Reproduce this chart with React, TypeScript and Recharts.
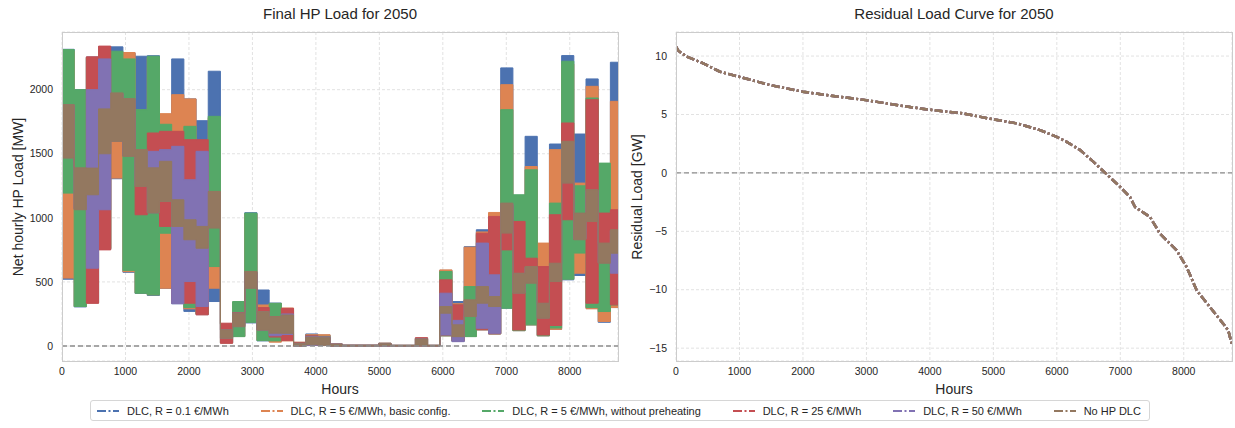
import React from "react";
import {
  ComposedChart, Area, LineChart, Line, XAxis, YAxis, CartesianGrid, ReferenceLine,
} from "recharts";

const FONT = '"Liberation Sans", Arial, Helvetica, sans-serif';
const TEXT = "#262626";

const SERIES = [
  { key: "blue", name: "DLC, R = 0.1 €/MWh", color: "#4C72B0" },
  { key: "orange", name: "DLC, R = 5 €/MWh, basic config.", color: "#DD8452" },
  { key: "green", name: "DLC, R = 5 €/MWh, without preheating", color: "#55A868" },
  { key: "red", name: "DLC, R = 25 €/MWh", color: "#C44E52" },
  { key: "purple", name: "DLC, R = 50 €/MWh", color: "#8172B3" },
  { key: "brown", name: "No HP DLC", color: "#937860" },
];

// start hour of each 8-day block (last entry closes the year)
const blockStart = [
  0, 192, 384, 576, 768, 960, 1152, 1344, 1536, 1728, 1920, 2112, 2304, 2496, 2688, 2880,
  3072, 3264, 3456, 3648, 3840, 4032, 4224, 4416, 4608, 4800, 4992, 5184, 5376, 5568, 5760,
  5952, 6144, 6336, 6528, 6720, 6912, 7104, 7296, 7488, 7680, 7872, 8064, 8256, 8448, 8640, 8760,
];

// daily min / max of the net HP load within each block [MW]
const blueLo = [521, 305, 335, 755, 1305, 575, 410, 395, 450, 330, 270, 245, 347, 25, 75, 180, 40, 35, 45, 0, 5, 5, 0, 0, 0, 0, 0, 0, 0, 0, 0, 80, 35, 75, 125, 95, 295, 120, 165, 80, 130, 516, 550, 295, 185, 300];
const blueHi = [2315, 2000, 2255, 2335, 2334, 2285, 2261, 2265, 1800, 2240, 1928, 1758, 2144, 170, 340, 1040, 437, 335, 280, 28, 94, 85, 16, 6, 6, 6, 22, 5, 5, 60, 5, 590, 347, 775, 907, 1030, 2170, 1175, 1636, 790, 1576, 2266, 1654, 2084, 1420, 2214];
const orangeLo = [530, 310, 335, 760, 1310, 580, 415, 400, 451, 335, 290, 250, 451, 25, 75, 190, 45, 30, 40, 0, 5, 5, 0, 0, 0, 0, 0, 0, 0, 0, 0, 79, 40, 75, 125, 95, 300, 120, 165, 80, 130, 525, 568, 290, 191, 300];
const orangeHi = [2300, 1990, 2250, 2300, 2290, 2290, 1840, 2250, 1813, 1961, 1928, 1600, 1780, 170, 340, 1030, 320, 330, 296, 30, 88, 88, 16, 6, 6, 6, 22, 5, 5, 60, 5, 594, 330, 771, 890, 1042, 2039, 1170, 1400, 803, 1532, 2200, 1271, 2026, 1420, 1909];
const greenLo = [1193, 308, 340, 760, 1600, 590, 412, 399, 880, 340, 300, 250, 620, 25, 73, 185, 42, 40, 45, 0, 5, 5, 0, 0, 0, 0, 0, 0, 0, 0, 0, 80, 40, 73, 130, 95, 295, 120, 165, 80, 140, 521, 725, 300, 269, 320];
const greenHi = [2313, 2000, 2250, 2300, 2300, 2240, 1844, 2261, 1730, 1670, 1714, 1600, 1792, 170, 347, 1037, 300, 333, 285, 25, 80, 75, 15, 6, 6, 6, 20, 5, 5, 60, 5, 581, 320, 464, 870, 1000, 1844, 1180, 1375, 610, 1115, 2222, 1250, 1935, 1427, 1050];
const redLo = [1470, 1070, 334, 750, 1600, 1485, 1024, 1040, 933, 340, 334, 243, 925, 21, 160, 455, 125, 70, 42, 0, 5, 5, 0, 0, 0, 0, 0, 0, 0, 0, 0, 85, 40, 235, 130, 95, 750, 125, 560, 86, 160, 985, 835, 334, 660, 321];
const redHi = [1880, 1380, 2256, 2340, 1970, 1925, 1530, 1662, 1675, 1675, 1610, 1610, 1200, 178, 260, 575, 300, 230, 294, 25, 80, 70, 15, 6, 6, 6, 20, 5, 5, 65, 5, 516, 321, 355, 880, 1011, 1100, 972, 685, 620, 1024, 1740, 1030, 1922, 1037, 1063];
const purpleLo = [1470, 1070, 607, 1063, 1600, 1485, 1250, 1040, 1128, 330, 503, 308, 925, 60, 151, 455, 125, 80, 90, 0, 5, 5, 0, 0, 0, 0, 0, 0, 0, 2, 0, 86, 34, 235, 138, 99, 885, 415, 495, 220, 505, 1275, 835, 975, 650, 568];
const purpleHi = [1880, 1385, 2000, 2240, 1970, 1925, 1530, 1519, 1532, 1558, 1297, 1519, 1200, 126, 256, 575, 268, 225, 250, 20, 75, 70, 14, 6, 6, 6, 18, 5, 5, 55, 5, 412, 200, 355, 803, 555, 1110, 565, 615, 330, 640, 1590, 1030, 1215, 800, 900];
const brownLo = [1467, 1063, 1180, 1500, 1597, 1480, 1245, 1040, 1128, 933, 829, 763, 920, 60, 151, 451, 125, 100, 99, 0, 10, 5, 0, 0, 0, 0, 2, 0, 0, 5, 0, 256, 73, 230, 334, 308, 881, 412, 490, 217, 503, 1271, 829, 972, 646, 724];
const brownHi = [1883, 1390, 1388, 1850, 1975, 1930, 1532, 1390, 1441, 1141, 985, 933, 1206, 126, 256, 581, 268, 229, 242, 18, 70, 65, 12, 5, 5, 5, 18, 5, 5, 55, 5, 308, 165, 360, 464, 386, 1115, 568, 620, 334, 646, 1597, 1037, 1219, 803, 907];

// residual load duration curve [GW]
const curveHours = [0, 36, 168, 430, 693, 993, 1481, 1996, 2479, 2993, 3582, 4002, 4527, 5000, 5368, 5735, 5998, 6156, 6368, 6578, 6762, 6998, 7153, 7232, 7468, 7626, 7888, 8046, 8204, 8413, 8623, 8702, 8759];
const curveGW = [10.8, 10.46, 9.95, 9.38, 8.66, 8.23, 7.52, 6.95, 6.58, 6.23, 5.72, 5.4, 5.09, 4.58, 4.24, 3.66, 3.09, 2.66, 1.95, 0.94, 0, -1.2, -2.06, -2.92, -3.77, -5.2, -6.63, -8.06, -10.06, -11.49, -12.92, -13.49, -14.7];

const xTicks = [0, 1000, 2000, 3000, 4000, 5000, 6000, 7000, 8000];
const loadTicks = [0, 500, 1000, 1500, 2000];
const gwTicks = [-15, -10, -5, 0, 5, 10];

const ranges: Record<string, [number[], number[]]> = {
  blue: [blueLo, blueHi], orange: [orangeLo, orangeHi], green: [greenLo, greenHi],
  red: [redLo, redHi], purple: [purpleLo, purpleHi], brown: [brownLo, brownHi],
};

const hpData = blockStart.map((hour, i) => {
  const k = Math.min(i, blueLo.length - 1);
  const row: Record<string, any> = { hour };
  for (const s of SERIES) row[s.key] = [ranges[s.key][0][k], ranges[s.key][1][k]];
  return row;
});

const curveData = curveHours.map((hour, i) => ({ hour, load: curveGW[i] }));

const tick = { fill: TEXT, fontSize: 10.5, fontFamily: FONT };
const fmtMinus = (v: number) => (v < 0 ? "\u2212" + Math.abs(v) : String(v));

function Frame({ left }: { left: number }) {
  return (
    <div style={{
      position: "absolute", left, top: 32, width: 557, height: 330, boxSizing: "border-box",
      border: "1px solid #cccccc", pointerEvents: "none",
    }} />
  );
}

function Label({ x, y, text, size, rotate }: { x: number; y: number; text: string; size: number; rotate?: boolean }) {
  return (
    <div style={{
      position: "absolute", left: x, top: y, transform: `translate(-50%, -50%)${rotate ? " rotate(-90deg)" : ""}`,
      fontSize: size, fontFamily: FONT, color: TEXT, whiteSpace: "nowrap",
    }}>{text}</div>
  );
}

function Sample({ color }: { color: string }) {
  return (
    <svg width={22} height={6} style={{ marginRight: 8 }}>
      <line x1={0} y1={3} x2={22} y2={3} stroke={color} strokeWidth={2} strokeDasharray="9 2.5 2 2.5" />
    </svg>
  );
}

export default function App() {
  return (
    <div style={{ position: "absolute", left: 0, top: 0, width: 1235, height: 428, background: "#fff", overflow: "hidden" }}>
      <Label x={340} y={13} text="Final HP Load for 2050" size={15} />
      <Label x={954} y={13} text="Residual Load Curve for 2050" size={15} />

      <div style={{ position: "absolute", left: 0, top: 0 }}>
        <ComposedChart width={630} height={395} data={hpData}
          margin={{ top: 32, right: 12, left: 12, bottom: 14 }}>
          <CartesianGrid stroke="#e2e2e2" strokeDasharray="3 2" />
          <XAxis dataKey="hour" type="number" domain={[0, 8760]} ticks={xTicks} allowDataOverflow
            tick={tick} tickLine={false} axisLine={false} tickSize={0} tickMargin={7} height={20} />
          <YAxis type="number" domain={[-117, 2450]} ticks={loadTicks} allowDataOverflow
            tick={tick} tickLine={false} axisLine={false} tickSize={0} tickMargin={9} width={50} />
          {SERIES.map((s) => (
            <Area key={s.key} dataKey={s.key} type="stepAfter" fill={s.color} fillOpacity={1}
              stroke={s.color} strokeWidth={1} isAnimationActive={false} dot={false} activeDot={false} />
          ))}
          <ReferenceLine y={0} stroke="#8c8c8c" strokeWidth={1.3} strokeDasharray="5 3" />
        </ComposedChart>
      </div>
      <Frame left={62} />

      <div style={{ position: "absolute", left: 614, top: 0 }}>
        <LineChart width={630} height={395} data={curveData}
          margin={{ top: 32, right: 12, left: 12, bottom: 14 }}>
          <CartesianGrid stroke="#e2e2e2" strokeDasharray="3 2" />
          <XAxis dataKey="hour" type="number" domain={[0, 8760]} ticks={xTicks} allowDataOverflow
            tick={tick} tickLine={false} axisLine={false} tickSize={0} tickMargin={7} height={20} />
          <YAxis type="number" domain={[-16.1, 12.06]} ticks={gwTicks} allowDataOverflow tickFormatter={fmtMinus}
            tick={tick} tickLine={false} axisLine={false} tickSize={0} tickMargin={9} width={50} />
          <ReferenceLine y={0} stroke="#8c8c8c" strokeWidth={1.3} strokeDasharray="5 3" />
          {SERIES.map((s) => (
            <Line key={s.key} dataKey="load" type="linear" stroke={s.color} strokeWidth={2.5}
              strokeDasharray="8 2.5 2 2.5" dot={false} activeDot={false} isAnimationActive={false} />
          ))}
        </LineChart>
      </div>
      <Frame left={676} />

      <Label x={340} y={389} text="Hours" size={14} />
      <Label x={954} y={389} text="Hours" size={14} />
      <Label x={18} y={197} text="Net hourly HP Load [MW]" size={14} rotate />
      <Label x={637} y={197} text="Residual Load [GW]" size={14} rotate />

      <div style={{
        position: "absolute", left: 90, top: 400, width: 1060, height: 21, boxSizing: "border-box",
        border: "1px solid #d6d6d6", borderRadius: 3, display: "flex", alignItems: "center",
        justifyContent: "space-between", padding: "0 8px 0 6px", fontFamily: FONT, fontSize: 11, color: TEXT,
      }}>
        {SERIES.map((s) => (
          <div key={s.key} style={{ display: "flex", alignItems: "center", whiteSpace: "nowrap" }}>
            <Sample color={s.color} />
            <span>{s.name}</span>
          </div>
        ))}
      </div>
    </div>
  );
}
